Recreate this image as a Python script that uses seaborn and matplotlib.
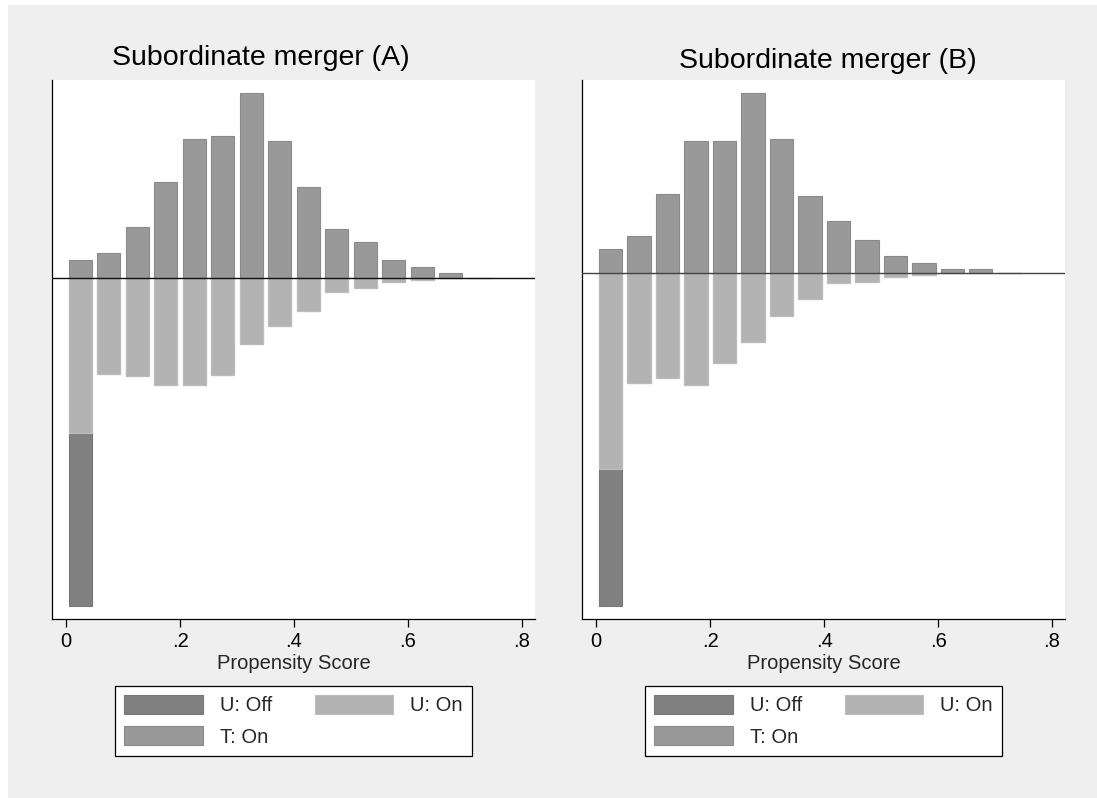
import numpy as np
import pandas as pd
import seaborn as sns
import matplotlib
matplotlib.use("Agg")
import matplotlib.pyplot as plt
from matplotlib.patches import Patch, Rectangle

# ---------------- data ----------------
bin_centers = [0.025, 0.075, 0.125, 0.175, 0.225, 0.275, 0.325, 0.375,
               0.425, 0.475, 0.525, 0.575, 0.625, 0.675, 0.725]

treated_on_A = [54, 75, 153, 290, 418, 427, 555, 413, 275, 147, 108, 54, 35, 15, 2]
untreated_on_A = [463, 287, 294, 321, 321, 291, 196, 143, 98, 40, 29, 12, 6, 0, 0]
untreated_off_A = [519, 0, 0, 0, 0, 0, 0, 0, 0, 0, 0, 0, 0, 0, 0]

treated_on_B = [71, 110, 236, 396, 396, 538, 401, 231, 154, 98, 49, 28, 11, 11, 0]
untreated_on_B = [588, 331, 316, 337, 271, 207, 130, 80, 30, 28, 14, 6, 0, 0, 0]
untreated_off_B = [411, 0, 0, 0, 0, 0, 0, 0, 0, 0, 0, 0, 0, 0, 0]

titles = ["Subordinate merger (A)", "Subordinate merger (B)"]
tick_values = [0, 0.2, 0.4, 0.6, 0.8]
tick_labels = ["0", ".2", ".4", ".6", ".8"]
legend_labels = ["U: Off", "U: On", "T: On"]
xlabel = "Propensity Score"

# ---------------- style ----------------
sns.set_theme(style="white")
plt.rcParams["font.family"] = ["Liberation Sans", "DejaVu Sans"]

C_OFF = "#808080"
C_UON = "#b3b3b3"
C_TON = "#999999"
E_OFF = "#777777"
E_UON = "#bdbdbd"
E_TON = "#8a8a8a"
BG = "#efefef"

W, H = 1097, 798
fig = plt.figure(figsize=(W / 100, H / 100), dpi=100, facecolor="white")
fig.patches.append(Rectangle((8 / W, 0), 1 - 8 / W, 1 - 5 / H,
                             transform=fig.transFigure, facecolor=BG,
                             edgecolor="none", zorder=-10))

panels = [
    dict(t=treated_on_A, u=untreated_on_A, o=untreated_off_A, ylim=(-1021, 595),
         left=52, right=535, title_x=260.4, title_base=65, zcol="#111111"),
    dict(t=treated_on_B, u=untreated_on_B, o=untreated_off_B, ylim=(-1038, 578),
         left=582.3, right=1065, title_x=827.5, title_base=68, zcol="#444444"),
]

top_px, bot_px = 80, 618.7
for i, p in enumerate(panels):
    ax = fig.add_axes([p["left"] / W, (H - bot_px) / H,
                       (p["right"] - p["left"]) / W, (bot_px - top_px) / H])
    ax.set_facecolor("white")

    df = pd.DataFrame({
        "ps": bin_centers,
        "treated": p["t"],
        "untreated_on": [-v for v in p["u"]],
        "untreated_all": [-(a + b) for a, b in zip(p["u"], p["o"])],
    })

    sns.barplot(data=df, x="ps", y="untreated_all", native_scale=True, width=0.82,
                color=C_OFF, saturation=1, edgecolor=E_OFF, linewidth=0.8,
                errorbar=None, ax=ax, zorder=2)
    sns.barplot(data=df, x="ps", y="untreated_on", native_scale=True, width=0.82,
                color=C_UON, saturation=1, edgecolor=E_UON, linewidth=0.8,
                errorbar=None, ax=ax, zorder=3)
    sns.barplot(data=df, x="ps", y="treated", native_scale=True, width=0.82,
                color=C_TON, saturation=1, edgecolor=E_TON, linewidth=0.8,
                errorbar=None, ax=ax, zorder=3)

    ax.axhline(0, color=p["zcol"], lw=1.0, zorder=5)

    ax.set_xlim(-14 / 570, 469 / 570)
    ax.set_ylim(*p["ylim"])
    ax.set_xticks(tick_values)
    ax.set_xticklabels(tick_labels, fontsize=14.5)
    ax.set_yticks([])
    ax.set_ylabel("")
    ax.set_xlabel(xlabel, fontsize=14.5, labelpad=2)
    ax.tick_params(axis="x", direction="out", length=5.5, width=0.9,
                   color="black", pad=4, bottom=True, labelcolor="black")
    for s in ["top", "right"]:
        ax.spines[s].set_visible(False)
    for s in ["left", "bottom"]:
        ax.spines[s].set_visible(True)
        ax.spines[s].set_color("black")
        ax.spines[s].set_linewidth(0.9)

    fig.text(p["title_x"] / W, 1 - p["title_base"] / H, titles[i],
             fontsize=20.5, ha="center", va="baseline", color="black")

    handles = [Patch(facecolor=C_OFF, edgecolor=E_OFF, lw=0.8),
               Patch(facecolor=C_TON, edgecolor=E_TON, lw=0.8),
               Patch(facecolor=C_UON, edgecolor=E_UON, lw=0.8)]
    labels = [legend_labels[0], legend_labels[2], legend_labels[1]]
    cx = (p["left"] + p["right"]) / 2 / W
    leg = fig.legend(handles, labels, loc="upper center",
                     bbox_to_anchor=(cx, 1 - 686 / H), bbox_transform=fig.transFigure,
                     ncol=2, fontsize=14.5, frameon=True, fancybox=False,
                     handlelength=3.9, handleheight=1.05, handletextpad=0.85,
                     columnspacing=2.1, labelspacing=0.55, borderpad=0.45,
                     borderaxespad=0)
    fr = leg.get_frame()
    fr.set_edgecolor("black")
    fr.set_facecolor("white")
    fr.set_linewidth(0.9)
    fr.set_alpha(1)

fig.savefig("out.png", dpi=100, facecolor="white")
